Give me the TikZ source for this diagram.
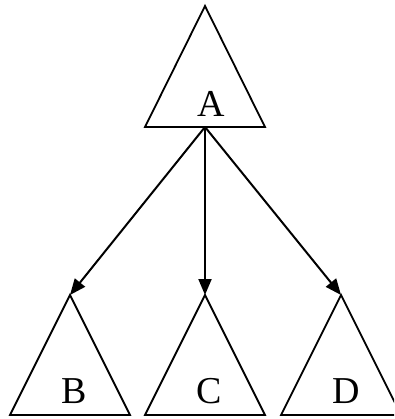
\documentclass[tikz,border=0pt]{standalone}
\usepackage{fontspec}
\setmainfont{Liberation Serif}
\usetikzlibrary{arrows.meta}
\begin{document}
\begin{tikzpicture}[x=1pt,y=-1pt,
  tri/.style={draw=black,line width=1.8pt,line join=miter},
  lbl/.style={anchor=base,inner sep=0pt,font=\fontsize{38}{40}\selectfont},
  conn/.style={draw=black,line width=2pt,-{Triangle[length=16pt,width=13pt]}}]
\useasboundingbox (0,0) rectangle (394,419);
\clip (0,0) rectangle (394,419);
% triangle corners
\coordinate (Atop) at (205,6);
\coordinate (Abase) at (205,127);
\coordinate (Btop) at (70,295);
\coordinate (Ctop) at (205,295);
\coordinate (Dtop) at (341,295);
\draw[tri] (Atop) -- (145,127) -- (265,127) -- cycle;
\draw[tri] (Btop) -- (10,415) -- (130,415) -- cycle;
\draw[tri] (Ctop) -- (145,415) -- (265,415) -- cycle;
\draw[tri] (Dtop) -- (281,415) -- (401,415) -- cycle;
\node[lbl] (A) at (211,117) {A};
\node[lbl] (B) at (74,403) {B};
\node[lbl] (C) at (209,403) {C};
\node[lbl] (D) at (346,403) {D};
\draw[conn] (Abase) -- (Btop);
\draw[conn] (Abase) -- (Ctop);
\draw[conn] (Abase) -- (Dtop);
\end{tikzpicture}
\end{document}
